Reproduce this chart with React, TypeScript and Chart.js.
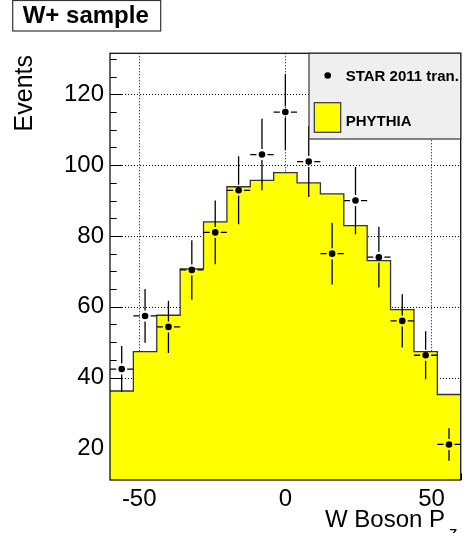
import React, { useEffect, useRef } from "react";
import { Chart, registerables } from "chart.js";

Chart.register(...registerables);

// ---------- data ----------
const binEdges = [-60, -52, -44, -36, -28, -20, -12, -4, 4, 12, 20, 28, 36, 44, 52, 60];
const pythiaCounts = [36.2, 47.3, 57.6, 70.7, 84.0, 93.9, 95.7, 97.9, 95.0, 91.9, 82.9, 73.0, 59.2, 47.3, 35.2];
const starCounts = [42.4, 57.4, 54.3, 70.4, 81.0, 92.9, 103.0, 115.0, 101.0, 75.0, 90.0, 74.0, 56.0, 46.3, 21.1];
const starErrors = [6.5, 7.6, 7.4, 8.4, 9.0, 9.6, 10.1, 10.7, 10.0, 8.7, 9.5, 8.6, 7.5, 6.8, 4.6];
const xTickValues = [-50, 0, 50];
const yTickValues = [20, 40, 60, 80, 100, 120];
const xMinorTickValues = [-60, -50, -40, -30, -20, -10, 0, 10, 20, 30, 40, 50, 60];
const yMinorTickValues = [15, 20, 25, 30, 35, 40, 45, 50, 55, 60, 65, 70, 75, 80, 85, 90, 95, 100, 105, 110, 115, 120, 125, 130];
const titleText = "W+ sample";
const xAxisTitle = "W Boson P";
const xAxisTitleSub = "z";
const yAxisTitle = "Events";
const legendLabels = ["STAR 2011 tran.", "PHYTHIA"];

const X_MIN = -60;
const X_MAX = 60;
const Y_MIN = 11.05;
const Y_MAX = 131.6;

const FONT = '"Liberation Sans", Arial, Helvetica, sans-serif';
const YELLOW = "#ffff00";

const rootStylePlugin = {
  id: "rootStyle",
  beforeDatasetsDraw(chart: any) {
    const { ctx, chartArea: a, scales } = chart;
    const x = scales.x;
    const y = scales.y;
    ctx.save();
    // dotted grid
    ctx.strokeStyle = "#000";
    ctx.lineWidth = 1;
    ctx.setLineDash([1, 2]);
    for (const v of xTickValues) {
      const px = Math.round(x.getPixelForValue(v)) + 0.5;
      ctx.beginPath();
      ctx.moveTo(px, a.top);
      ctx.lineTo(px, a.bottom);
      ctx.stroke();
    }
    for (const v of yTickValues) {
      const py = Math.round(y.getPixelForValue(v)) + 0.5;
      ctx.beginPath();
      ctx.moveTo(a.left, py);
      ctx.lineTo(a.right, py);
      ctx.stroke();
    }
    ctx.setLineDash([]);
    // inward ticks
    ctx.lineWidth = 1;
    for (const v of yMinorTickValues) {
      const major = yTickValues.includes(v);
      const py = Math.round(y.getPixelForValue(v)) + 0.5;
      ctx.beginPath();
      ctx.moveTo(a.left, py);
      ctx.lineTo(a.left + (major ? 13 : 6.7), py);
      ctx.stroke();
    }
    for (const v of xMinorTickValues) {
      const major = xTickValues.includes(v);
      const px = Math.round(x.getPixelForValue(v)) + 0.5;
      ctx.beginPath();
      ctx.moveTo(px, a.bottom);
      ctx.lineTo(px, a.bottom - (major ? 13 : 6.7));
      ctx.stroke();
    }
    ctx.restore();
  },
  afterDatasetsDraw(chart: any) {
    const { ctx, chartArea: a, scales } = chart;
    const x = scales.x;
    const y = scales.y;
    ctx.save();
    // error bars with a gap around the marker
    const gap = 5.5;
    ctx.strokeStyle = "#000";
    ctx.lineWidth = 1.3;
    for (let i = 0; i < starCounts.length; i++) {
      const cxv = (binEdges[i] + binEdges[i + 1]) / 2;
      const cx = x.getPixelForValue(cxv);
      const cy = y.getPixelForValue(starCounts[i]);
      const top = y.getPixelForValue(starCounts[i] + starErrors[i]);
      const bot = y.getPixelForValue(starCounts[i] - starErrors[i]);
      const l = x.getPixelForValue(binEdges[i]);
      const r = x.getPixelForValue(binEdges[i + 1]);
      ctx.beginPath();
      if (cy - gap > top) {
        ctx.moveTo(cx, cy - gap);
        ctx.lineTo(cx, top);
      }
      if (bot > cy + gap) {
        ctx.moveTo(cx, cy + gap);
        ctx.lineTo(cx, bot);
      }
      ctx.moveTo(l, cy);
      ctx.lineTo(cx - gap, cy);
      ctx.moveTo(cx + gap, cy);
      ctx.lineTo(r, cy);
      ctx.stroke();
    }
    // frame
    ctx.strokeStyle = "#111";
    ctx.lineWidth = 1.3;
    ctx.strokeRect(a.left, a.top, a.right - a.left, a.bottom - a.top);
    ctx.restore();
  },
  afterDraw(chart: any) {
    const { ctx, chartArea: a } = chart;
    ctx.save();
    // legend box
    const lx = 309, ly = a.top, lw = a.right - 309, lh = 139 - a.top;
    ctx.fillStyle = "#efefef";
    ctx.fillRect(lx, ly, lw, lh);
    ctx.strokeStyle = "#333";
    ctx.lineWidth = 1.2;
    ctx.strokeRect(lx, ly, lw, lh);
    ctx.save();
    ctx.beginPath();
    ctx.rect(lx, ly, lw, lh);
    ctx.clip();
    ctx.fillStyle = "#000";
    ctx.beginPath();
    ctx.arc(327.7, 75.5, 3.3, 0, Math.PI * 2);
    ctx.fill();
    ctx.font = `bold 15px ${FONT}`;
    ctx.textAlign = "left";
    ctx.textBaseline = "alphabetic";
    ctx.fillText(legendLabels[0], 345.7, 80.8);
    ctx.fillStyle = YELLOW;
    ctx.fillRect(314.3, 102.7, 26.4, 29.6);
    ctx.strokeStyle = "#333";
    ctx.lineWidth = 1.2;
    ctx.strokeRect(314.3, 102.7, 26.4, 29.6);
    ctx.fillStyle = "#000";
    ctx.fillText(legendLabels[1], 345.7, 126);
    ctx.restore();

    // title box
    ctx.fillStyle = "#fff";
    ctx.fillRect(12.7, 0.5, 148, 30.5);
    ctx.strokeStyle = "#333";
    ctx.lineWidth = 1.2;
    ctx.strokeRect(12.7, 0.5, 148, 30.5);
    ctx.fillStyle = "#000";
    ctx.font = `bold 24px ${FONT}`;
    ctx.textAlign = "left";
    ctx.textBaseline = "alphabetic";
    ctx.fillText(titleText, 22.7, 22.5);

    // y axis title
    ctx.save();
    ctx.translate(32.3, 55);
    ctx.rotate(-Math.PI / 2);
    ctx.font = `25px ${FONT}`;
    ctx.textAlign = "right";
    ctx.fillText(yAxisTitle, 0, 0);
    ctx.restore();

    // x axis title
    ctx.font = `24px ${FONT}`;
    ctx.textAlign = "left";
    ctx.fillText(xAxisTitle, 325, 527.3);
    const w = ctx.measureText(xAxisTitle).width;
    ctx.font = `17px ${FONT}`;
    ctx.fillText(xAxisTitleSub, 325 + w + 4, 538);
    ctx.restore();
  },
};

export default function App() {
  const ref = useRef<HTMLCanvasElement | null>(null);
  useEffect(() => {
    if (!ref.current) return;
    // point i sits at the right edge of bin i-1; stepped "before" keeps the
    // previous level until the edge, so the first point carries bin 0's level
    const histData = binEdges.map((e, i) => ({
      x: e,
      y: pythiaCounts[Math.max(0, i - 1)],
    }));
    const starData = starCounts.map((v, i) => ({
      x: (binEdges[i] + binEdges[i + 1]) / 2,
      y: v,
    }));
    const chart = new Chart(ref.current, {
      type: "scatter",
      data: {
        datasets: [
          {
            type: "scatter",
            label: legendLabels[0],
            data: starData,
            pointRadius: 3.3,
            pointBackgroundColor: "#000",
            pointBorderWidth: 0,
            showLine: false,
          } as any,
          {
            type: "line",
            label: legendLabels[1],
            data: histData,
            stepped: "after",
            fill: "start",
            backgroundColor: YELLOW,
            borderColor: "#333",
            borderWidth: 1.3,
            pointRadius: 0,
          } as any,
        ],
      },
      options: {
        animation: false,
        responsive: false,
        maintainAspectRatio: false,
        devicePixelRatio: 1,
        layout: { padding: { left: 0, top: 53.3, right: 10.3, bottom: 0 } },
        plugins: {
          legend: { display: false },
          tooltip: { enabled: false },
          title: { display: false },
        },
        scales: {
          x: {
            type: "linear",
            min: X_MIN,
            max: X_MAX,
            grid: { display: false, drawTicks: false },
            border: { display: false },
            afterBuildTicks: (s: any) => {
              s.ticks = xTickValues.map((v) => ({ value: v }));
            },
            afterFit: (s: any) => {
              s.height = 53;
            },
            ticks: {
              autoSkip: false,
              maxRotation: 0,
              padding: 5,
              color: "#000",
              font: { family: FONT, size: 24 },
              callback: (v: any) => String(v),
            },
          },
          y: {
            type: "linear",
            min: Y_MIN,
            max: Y_MAX,
            grid: { display: false, drawTicks: false },
            border: { display: false },
            afterBuildTicks: (s: any) => {
              s.ticks = yTickValues.map((v) => ({ value: v }));
            },
            afterFit: (s: any) => {
              s.width = 110;
            },
            ticks: {
              autoSkip: false,
              padding: 6,
              color: "#000",
              font: { family: FONT, size: 24 },
              callback: (v: any) => String(v),
            },
          },
        },
      },
      plugins: [rootStylePlugin],
    });
    return () => chart.destroy();
  }, []);
  return (
    <div style={{ position: "absolute", left: 0, top: 0, width: 471, height: 533, background: "#fff" }}>
      <canvas ref={ref} width={471} height={533} style={{ display: "block", width: 471, height: 533 }} />
    </div>
  );
}
